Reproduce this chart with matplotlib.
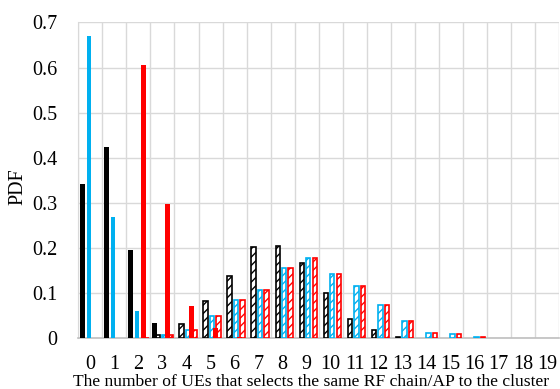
import matplotlib
matplotlib.use("Agg")
import matplotlib.pyplot as plt
import numpy as np

plt.rcParams['font.family'] = ['Liberation Serif', 'DejaVu Serif']
plt.rcParams['hatch.linewidth'] = 1.0

categories = list(range(20))

# solid series
black_solid = [0.343, 0.425, 0.196, 0.035, 0.002, 0, 0, 0, 0, 0,
               0, 0, 0, 0, 0, 0, 0, 0, 0, 0]
blue_solid = [0.670, 0.269, 0.060, 0.001, 0, 0, 0, 0, 0, 0,
              0, 0, 0, 0, 0, 0, 0, 0, 0, 0]
red_solid = [0, 0, 0.605, 0.297, 0.072, 0.024, 0.003, 0, 0, 0,
             0, 0, 0, 0, 0, 0, 0, 0, 0, 0]

# hatched series
black_hatched = [0, 0, 0, 0.007, 0.032, 0.082, 0.139, 0.202, 0.204, 0.166,
                 0.100, 0.044, 0.018, 0.004, 0, 0, 0, 0, 0, 0]
blue_hatched = [0, 0, 0, 0.008, 0.018, 0.049, 0.086, 0.108, 0.155, 0.178,
                0.142, 0.117, 0.075, 0.038, 0.013, 0.0095, 0.003, 0, 0, 0]
red_hatched = [0, 0, 0.002, 0.008, 0.018, 0.049, 0.086, 0.108, 0.155, 0.178,
               0.142, 0.117, 0.075, 0.038, 0.013, 0.0095, 0.003, 0, 0, 0]

ytick_vals = [0, 0.1, 0.2, 0.3, 0.4, 0.5, 0.6, 0.7]
ytick_labels = ["0", "0.1", "0.2", "0.3", "0.4", "0.5", "0.6", "0.7"]

BLACK = "#000000"
BLUE = "#00B0F0"
RED = "#FF0000"

fig = plt.figure(figsize=(5.6, 3.89), dpi=100)
ax = fig.add_axes([0.140, 0.130, 0.858, 0.8125])

x = np.arange(len(categories))
step = 0.135
width = 0.185

series = [
    (black_solid, BLACK, False, 0),
    (black_hatched, BLACK, True, 1),
    (blue_solid, BLUE, False, 2),
    (blue_hatched, BLUE, True, 3),
    (red_solid, RED, False, 4),
    (red_hatched, RED, True, 5),
]

# hatched bars first, solid bars on top; empty categories get no bar
for vals, col, hatched, idx in sorted(series, key=lambda s: not s[2]):
    vals = np.asarray(vals, dtype=float)
    keep = vals > 0
    pos = x[keep] + (idx - 2.5) * step
    if hatched:
        ax.bar(pos, vals[keep], width=width, facecolor="white", edgecolor=col,
               linewidth=1.2, hatch="////", zorder=3)
    else:
        ax.bar(pos, vals[keep], width=width, color=col, linewidth=0, zorder=4)

ax.set_xlim(-0.5, 19.5)
ax.set_ylim(0, 0.7)
ax.set_yticks(ytick_vals)
ax.set_yticklabels(ytick_labels, fontsize=14.5)
ax.set_xticks(x)
ax.set_xticklabels([str(c) for c in categories], fontsize=14.5)
ax.set_xticks(np.arange(-0.5, 20, 1), minor=True)

ax.tick_params(axis='both', which='both', length=0)
ax.tick_params(axis='y', pad=15)
ax.tick_params(axis='x', pad=12)

ax.grid(True, axis='y', which='major', color="#d9d9d9", linewidth=1.0, zorder=0)
ax.grid(True, axis='x', which='minor', color="#d9d9d9", linewidth=1.0, zorder=0)
ax.grid(False, axis='x', which='major')
ax.set_axisbelow(True)

for s in ["top", "right"]:
    ax.spines[s].set_visible(False)
ax.spines["left"].set_color("#d9d9d9")
ax.spines["bottom"].set_color("#bfbfbf")
ax.spines["bottom"].set_linewidth(1.2)

ax.set_ylabel("PDF", fontsize=14.5)
ax.yaxis.set_label_coords(-0.107, 0.48)

fig.text(311 / 560, 3.5 / 389,
         "The number of UEs that selects the same RF chain/AP to the cluster",
         fontsize=12.6, ha="center", va="baseline")

fig.savefig("out.png", dpi=100)
